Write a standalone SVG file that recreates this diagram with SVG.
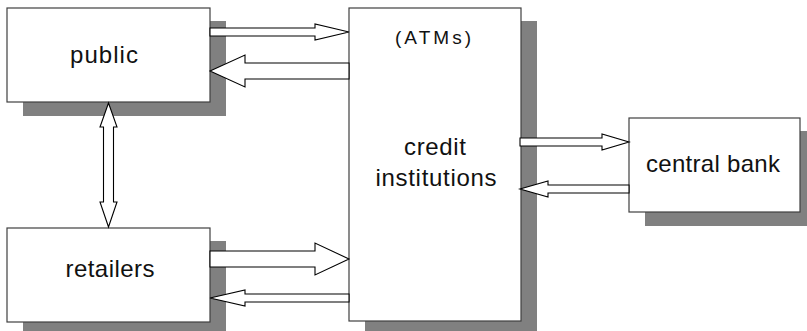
<svg xmlns="http://www.w3.org/2000/svg" width="807" height="331" viewBox="0 0 807 331">
<style>
.shadow{fill:#808080;stroke:none}
.box{fill:#ffffff;stroke:#404040;stroke-width:1.2}
.lbl{font-family:"Liberation Sans",Arial,sans-serif;font-size:24px;fill:#111111;text-anchor:middle}
.small{font-size:19px}
.arrow{fill:#ffffff;stroke:#000000;stroke-width:1.1;stroke-linejoin:miter}
</style>
<rect width="807" height="331" fill="#ffffff"/>
<g id="public">
<rect class="shadow" x="23" y="21" width="203" height="95"/>
<rect class="box" x="7" y="8" width="203" height="94"/>
<text class="lbl" x="104" y="63" textLength="68" lengthAdjust="spacing">public</text>
</g>
<g id="retailers">
<rect class="shadow" x="23" y="241" width="203" height="95"/>
<rect class="box" x="7" y="228" width="203" height="94"/>
<text class="lbl" x="110" y="277" textLength="89" lengthAdjust="spacing">retailers</text>
</g>
<g id="credit-institutions">
<rect class="shadow" x="365" y="21" width="172" height="320"/>
<rect class="box" x="349" y="8" width="172" height="313"/>
<text class="lbl small" x="433" y="44" textLength="76" lengthAdjust="spacing">(ATMs)</text>
<text class="lbl" x="435" y="155" textLength="62" lengthAdjust="spacing">credit</text>
<text class="lbl" x="436" y="186" textLength="121" lengthAdjust="spacing">institutions</text>
</g>
<g id="central-bank">
<rect class="shadow" x="645" y="131" width="171" height="95"/>
<rect class="box" x="629" y="118" width="171" height="94"/>
<text class="lbl" x="713" y="172" textLength="134" lengthAdjust="spacing">central bank</text>
</g>
<g id="connectors">
<polygon class="arrow" points="210,28 315,28 315,24 349,32 315,40 315,36 210,36"/>
<polygon class="arrow" points="349,63 245,63 245,55 210,71 245,87 245,79 349,79"/>
<polygon class="arrow" points="210,251 315,251 315,243 349,259 315,275 315,267 210,267"/>
<polygon class="arrow" points="349,294 245,294 245,290 210,298 245,306 245,302 349,302"/>
<polygon class="arrow" points="520,138 602,138 602,134 629,142 602,150 602,146 520,146"/>
<polygon class="arrow" points="629,185 548,185 548,181 520,189 548,197 548,193 629,193"/>
<polygon class="arrow" points="108.5,103 117,127 113.5,127 113.5,202 117,202 108.5,227 100,202 103.5,202 103.5,127 100,127"/>
</g>
</svg>
